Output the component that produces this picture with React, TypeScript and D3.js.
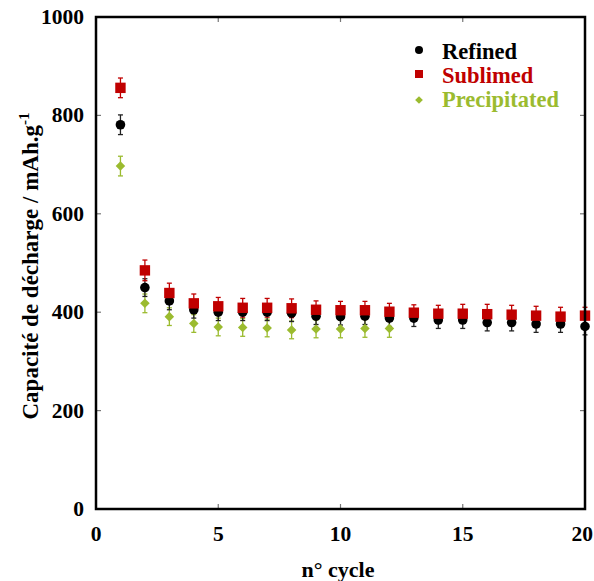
import React from "react";
import * as d3 from "d3";

const cycles = d3.range(1, 21);
const refined = [781, 450, 423, 405, 400, 400, 400, 398, 392, 391, 392, 388, 388, 384, 384, 379, 379, 376, 376, 371];
const refinedErr = [20, 18, 18, 17, 17, 17, 17, 17, 17, 17, 17, 17, 17, 17, 17, 17, 17, 17, 17, 17];
const sublimed = [856, 485, 439, 418, 412, 409, 409, 408, 405, 404, 404, 401, 399, 397, 397, 396, 395, 393, 391, 393];
const sublimedErr = [20, 21, 20, 19, 18, 19, 19, 19, 18, 18, 18, 17, 16, 17, 19, 20, 19, 19, 19, 17];
const precipCycles = d3.range(1, 13);
const precipitated = [697, 418, 391, 377, 370, 369, 368, 364, 366, 366, 367, 367];
const precipErr = [20, 19, 18, 18, 18, 18, 18, 18, 18, 18, 18, 18];
const xTicks = [0, 5, 10, 15, 20];
const yTicks = [0, 200, 400, 600, 800, 1000];
const legendLabels = ["Refined", "Sublimed", "Precipitated"];

const RED = "#c00000";
const GREEN = "#9bbb2f";
const BLACK = "#000000";
const FONT = "'Liberation Serif', 'Times New Roman', serif";

export default function App() {
  const W = 594, H = 581;
  const left = 96, right = 585, top = 17, bottom = 509;
  const x = d3.scaleLinear().domain([0, 20]).range([left, right]);
  const y = d3.scaleLinear().domain([0, 1000]).range([bottom, top]);
  const diamond = d3.symbol().type(d3.symbolDiamond2).size(58)();
  const legendDiamond = d3.symbol().type(d3.symbolDiamond2).size(38)();

  const errBars = (xs: number[], vs: number[], es: number[], color: string, key: string) =>
    xs.map((c, i) => {
      const cx = x(c);
      const y1 = y(vs[i] + es[i]);
      const y2 = y(vs[i] - es[i]);
      return (
        <g key={key + i} stroke={color} strokeWidth={1.3}>
          <line x1={cx} x2={cx} y1={y1} y2={y2} />
          <line x1={cx - 2.5} x2={cx + 2.5} y1={y1} y2={y1} />
          <line x1={cx - 2.5} x2={cx + 2.5} y1={y2} y2={y2} />
        </g>
      );
    });

  return (
    <svg width={W} height={H} style={{ position: "absolute", left: 0, top: 0, background: "#fff" }}>
      {/* ticks */}
      <g stroke="#777" strokeWidth={1.2}>
        {xTicks.map((t) => (
          <g key={"xt" + t}>
            <line x1={x(t)} x2={x(t)} y1={bottom} y2={bottom - 5} />
            <line x1={x(t)} x2={x(t)} y1={top} y2={top + 5} />
          </g>
        ))}
        {yTicks.map((t) => (
          <g key={"yt" + t}>
            <line x1={left} x2={left + 5} y1={y(t)} y2={y(t)} />
            <line x1={right} x2={right - 5} y1={y(t)} y2={y(t)} />
          </g>
        ))}
      </g>
      {/* tick labels */}
      <g fontFamily={FONT} fontWeight="bold" fontSize={21.5} fill="#000">
        {xTicks.map((t, i) =>
          i === xTicks.length - 1 ? (
            <text key={"xl" + t} x={593} y={541} textAnchor="end">{t}</text>
          ) : (
            <text key={"xl" + t} x={x(t)} y={541} textAnchor="middle">{t}</text>
          )
        )}
        {yTicks.map((t) => (
          <text key={"yl" + t} x={84} y={y(t) + 7} textAnchor="end">{t}</text>
        ))}
      </g>
      {/* axis titles */}
      <text x={338} y={577} textAnchor="middle" fontFamily={FONT} fontWeight="bold" fontSize={22}>
        n° cycle
      </text>
      <text
        transform={`translate(38, ${(top + bottom) / 2 + 3}) rotate(-90)`}
        textAnchor="middle"
        fontFamily={FONT}
        fontWeight="bold"
        fontSize={23}
      >
        Capacité de décharge / mAh.g<tspan dy={-9} fontSize={15}>-1</tspan>
      </text>

      {/* error bars */}
      {errBars(precipCycles, precipitated, precipErr, GREEN, "pe")}
      {errBars(cycles, refined, refinedErr, "#222", "re")}
      {errBars(cycles, sublimed, sublimedErr, RED, "se")}

      {/* markers */}
      {precipCycles.map((c, i) => (
        <path key={"pm" + i} d={diamond} transform={`translate(${x(c)},${y(precipitated[i])})`} fill={GREEN} />
      ))}
      {cycles.map((c, i) => (
        <circle key={"rm" + i} cx={x(c)} cy={y(refined[i])} r={4.8} fill={BLACK} />
      ))}
      {cycles.map((c, i) => (
        <rect key={"sm" + i} x={x(c) - 5.2} y={y(sublimed[i]) - 5.2} width={10.4} height={10.4} fill={RED} />
      ))}

      {/* frame */}
      <rect x={left} y={top} width={right - left} height={bottom - top} fill="none" stroke="#000" strokeWidth={2.5} />

      {/* legend */}
      <g fontFamily={FONT} fontWeight="bold" fontSize={22.5}>
        <circle cx={419} cy={50} r={4} fill={BLACK} />
        <text x={442} y={59} fill={BLACK}>{legendLabels[0]}</text>
        <rect x={415} y={70} width={8} height={8} fill={RED} />
        <text x={442} y={83} fill={RED}>{legendLabels[1]}</text>
        <path d={legendDiamond} transform="translate(419,100)" fill={GREEN} />
        <text x={442} y={107} fill={GREEN}>{legendLabels[2]}</text>
      </g>
    </svg>
  );
}
